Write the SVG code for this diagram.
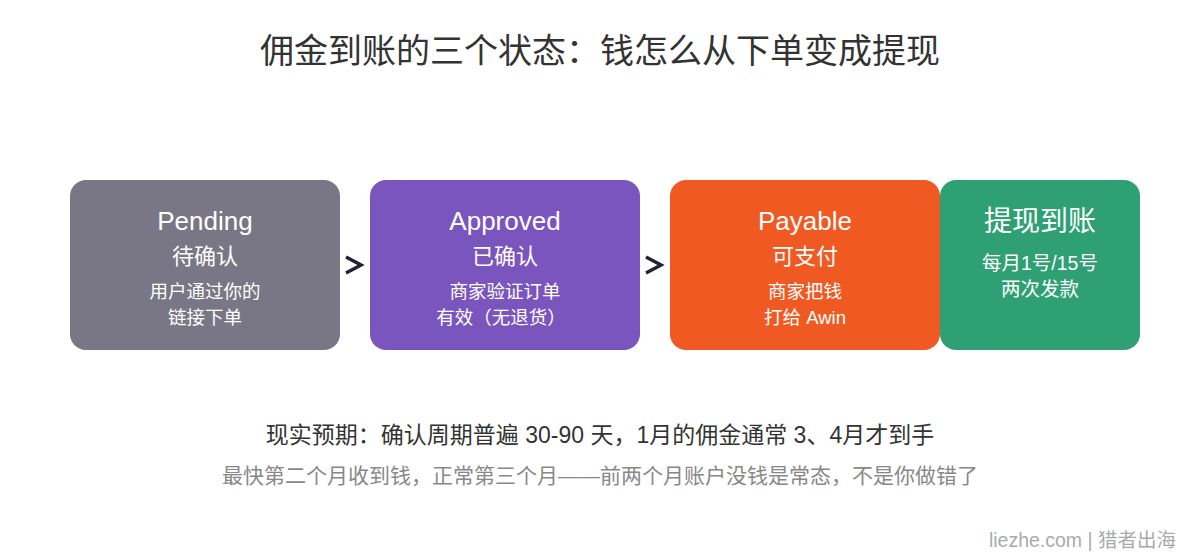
<svg xmlns="http://www.w3.org/2000/svg" width="1200" height="560" viewBox="0 0 1200 560">
<style>
.t{font-family:"Liberation Sans","Noto Sans CJK SC",sans-serif;text-anchor:middle;fill:#fff}
.h{font-size:26px}
.s{font-size:22px}
.d{font-size:18.5px}
.conn{fill:none;stroke:#222230;stroke-width:3.5;stroke-linecap:butt;stroke-linejoin:miter}
</style>
<rect width="1200" height="560" fill="#fff"/>
<text x="600" y="63" font-family="Liberation Sans,Noto Sans CJK SC,sans-serif" font-size="34" text-anchor="middle" fill="#333">佣金到账的三个状态：钱怎么从下单变成提现</text>
<g id="connectors">
<path class="conn" d="M346,257 L361,265 L346,273"/>
<path class="conn" d="M646,257 L661,265 L646,273"/>
<path class="conn" d="M917,256 L931,265 L917,274 M930,265 L948,265"/>
</g>
<g id="pending">
<rect x="70" y="180" width="270" height="170" rx="16" fill="#797785"/>
<text class="t h" x="205" y="230">Pending</text>
<text class="t s" x="205" y="264">待确认</text>
<text class="t d" x="205" y="298">用户通过你的</text>
<text class="t d" x="205" y="324">链接下单</text>
</g>
<g id="approved">
<rect x="370" y="180" width="270" height="170" rx="16" fill="#7b55be"/>
<text class="t h" x="505" y="230">Approved</text>
<text class="t s" x="505" y="264">已确认</text>
<text class="t d" x="505" y="298">商家验证订单</text>
<text class="t d" x="501" y="324">有效（无退货）</text>
</g>
<g id="payable">
<rect x="670" y="180" width="270" height="170" rx="16" fill="#f05a22"/>
<text class="t h" x="805" y="230">Payable</text>
<text class="t s" x="805" y="264">可支付</text>
<text class="t d" x="805" y="298">商家把钱</text>
<text class="t d" x="805" y="324">打给 Awin</text>
</g>
<g id="withdraw">
<rect x="940" y="180" width="200" height="170" rx="16" fill="#2ea073"/>
<text class="t" x="1040" y="231" font-size="28">提现到账</text>
<text class="t" x="1040" y="270" font-size="19.5">每月1号/15号</text>
<text class="t" x="1040" y="296" font-size="19.5">两次发款</text>
</g>
<text x="600" y="443" font-family="Liberation Sans,Noto Sans CJK SC,sans-serif" font-size="23" text-anchor="middle" fill="#333">现实预期：确认周期普遍 30-90 天，1月的佣金通常 3、4月才到手</text>
<text x="600" y="483" font-family="Liberation Sans,Noto Sans CJK SC,sans-serif" font-size="21" text-anchor="middle" fill="#888">最快第二个月收到钱，正常第三个月——前两个月账户没钱是常态，不是你做错了</text>
<text x="1176" y="547" font-family="Liberation Sans,Noto Sans CJK SC,sans-serif" font-size="19.5" text-anchor="end" fill="#aaa">liezhe.com | 猎者出海</text>
</svg>
